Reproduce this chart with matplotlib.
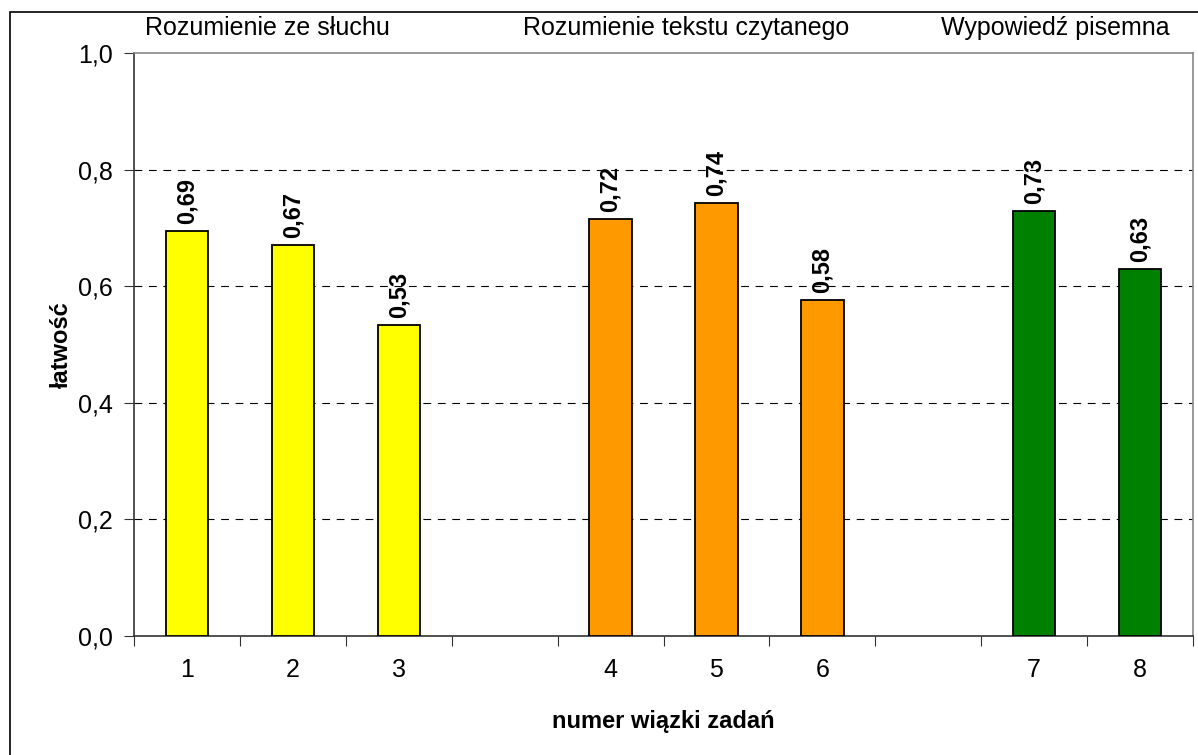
import matplotlib.pyplot as plt
from matplotlib.patches import Rectangle

plt.rcParams['font.family'] = ['Liberation Sans', 'DejaVu Sans']

# data
task_labels = ['1', '2', '3', '4', '5', '6', '7', '8']
slots = [0, 1, 2, 4, 5, 6, 8, 9]
values = [0.695, 0.671, 0.533, 0.716, 0.742, 0.576, 0.729, 0.630]
bar_colors = ['#FFFF00'] * 3 + ['#FF9900'] * 3 + ['#008000'] * 2
groups = ['Rozumienie ze słuchu', 'Rozumienie tekstu czytanego', 'Wypowiedź pisemna']
group_x = [267, 686, 1055]

fig = plt.figure(figsize=(11.98, 7.55), dpi=100)
ax = fig.add_axes([134 / 1198, 1 - 636 / 755, (1193 - 134) / 1198, (636 - 53) / 755])

# outer frame
fig.patches.append(Rectangle((10 / 1198, -0.1), 1.2, 1 - 12 / 755 + 0.1,
                             transform=fig.transFigure, fill=False,
                             edgecolor='black', linewidth=1.2))

ax.bar(slots, values, width=0.4, color=bar_colors, edgecolor='black',
       linewidth=1.3, zorder=3)

for x, v in zip(slots, values):
    ax.text(x, v + 0.012, f'{v:.2f}'.replace('.', ','), rotation=90,
            ha='center', va='bottom', fontsize=17, fontweight='bold')

ax.set_xlim(-0.5, 9.5)
ax.set_ylim(0, 1.0)
ax.set_yticks([0, 0.2, 0.4, 0.6, 0.8, 1.0])
ax.set_yticklabels([f'{t:.1f}'.replace('.', ',') for t in [0, 0.2, 0.4, 0.6, 0.8, 1.0]],
                   fontsize=18)
for g in [0.2, 0.4, 0.6, 0.8]:
    ax.axhline(g, color='black', linestyle=(0, (7, 6)), linewidth=0.8, zorder=1)

ax.set_xticks([i - 0.5 for i in range(11)])
ax.set_xticklabels([])
ax.set_xticks(slots, minor=True)
ax.set_xticklabels(task_labels, minor=True, fontsize=18)
ax.tick_params(axis='x', which='major', length=7, direction='out', color='#333333')
ax.tick_params(axis='x', which='minor', length=0, pad=16)
ax.tick_params(axis='y', length=7, direction='out', color='#333333', pad=8)

for s in ['left', 'bottom']:
    ax.spines[s].set_color('#333333')
    ax.spines[s].set_linewidth(1.2)
for s in ['top', 'right']:
    ax.spines[s].set_color('#888888')
    ax.spines[s].set_linewidth(1.2)

ax.set_xlabel('numer wiązki zadań', fontsize=17, fontweight='bold', labelpad=20)
ax.set_ylabel('łatwość', fontsize=17, fontweight='bold', labelpad=4)

for name, gx in zip(groups, group_x):
    fig.text(gx / 1198, 1 - 28 / 755, name, ha='center', va='center', fontsize=18)

fig.savefig('out.png', dpi=100)
